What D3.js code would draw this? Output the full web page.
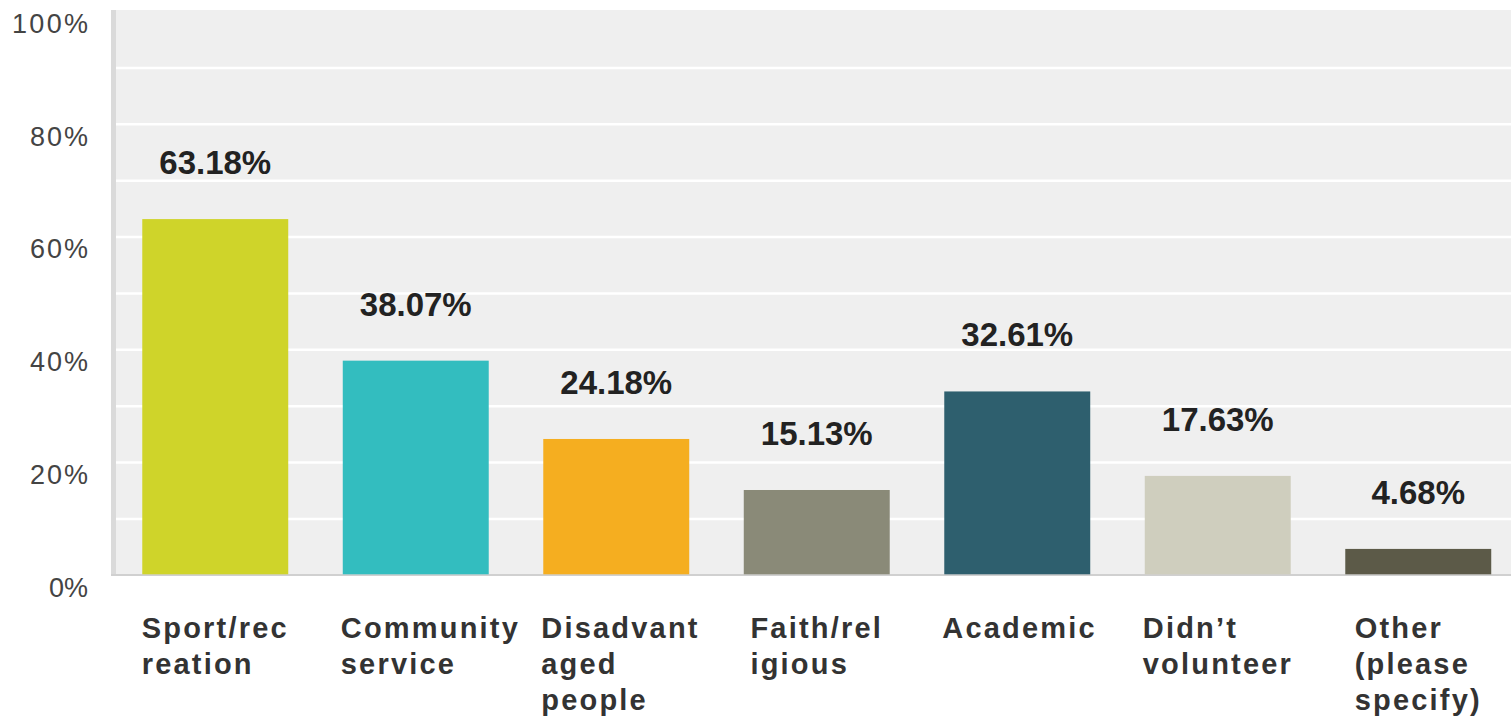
<!DOCTYPE html>
<html><head><meta charset="utf-8">
<script src="https://cdn.jsdelivr.net/npm/d3@7"></script>
<style>html,body{margin:0;padding:0;background:#fff;}svg{display:block;}</style>
</head><body>
<svg id="chart" width="1511" height="717"></svg>
<script>
const categories = ["Sport/recreation","Community service","Disadvantaged people","Faith/religious","Academic","Didn't volunteer","Other (please specify)"];
const labelLines = [["Sport/rec","reation"],["Community","service"],["Disadvant","aged","people"],["Faith/rel","igious"],["Academic"],["Didn\u2019t","volunteer"],["Other","(please","specify)"]];
const values = [63.18, 38.07, 24.18, 15.13, 32.61, 17.63, 4.68];
const colors = ["#cfd42a","#33bdbf","#f5ae20","#8a8a78","#2e5f6e","#cfcebe","#5c5a48"];
const yTicks = [0,20,40,60,80,100];
const gridTicks = [10,20,30,40,50,60,70,80,90];

const svg = d3.select("#chart");
const plotLeft = 116, plotRight = 1511, plotTop = 10, y0 = 575;
const x = d3.scaleBand().domain(categories).range([115, 1518.5]).paddingInner(0.272).paddingOuter(0.136);
const y = d3.scaleLinear().domain([0,100]).range([575.3, 11.5]);

svg.append("rect").attr("x", plotLeft).attr("y", plotTop).attr("width", plotRight-plotLeft).attr("height", y0-plotTop).attr("fill","#efefef");
svg.append("rect").attr("x", 111).attr("y", plotTop).attr("width", 5).attr("height", y0-plotTop+1).attr("fill","#dadada");

svg.append("g").selectAll("line").data(gridTicks).join("line")
  .attr("x1", plotLeft).attr("x2", plotRight)
  .attr("y1", d=>y(d)).attr("y2", d=>y(d))
  .attr("stroke","#ffffff").attr("stroke-width",2.5);

svg.append("line").attr("x1",111).attr("x2",plotRight).attr("y1",575).attr("y2",575).attr("stroke","#d0d0d0").attr("stroke-width",2);

svg.append("g").selectAll("text").data(yTicks).join("text")
  .attr("x", 88).attr("y", d=>y(d)+12).attr("dy","0.35em")
  .attr("text-anchor","end")
  .attr("font-family","Liberation Sans, Arial, sans-serif").attr("font-size",27)
  .attr("fill","#444")
  .attr("textLength", d=> String(d).length===3?76:(String(d).length===2?58:39))
  .text(d=>d+"%");

svg.append("g").selectAll("rect").data(values).join("rect")
  .attr("x",(d,i)=>x(categories[i])).attr("width",x.bandwidth())
  .attr("y",d=>y(d)).attr("height",d=>y(0)-y(d)-1)
  .attr("fill",(d,i)=>colors[i]);

svg.append("g").selectAll("text").data(values).join("text")
  .attr("x",(d,i)=>x(categories[i])+x.bandwidth()/2)
  .attr("y",d=>y(d)-45)
  .attr("text-anchor","middle")
  .attr("font-family","Liberation Sans, Arial, sans-serif").attr("font-weight","bold").attr("font-size",33)
  .attr("fill","#222")
  .text(d=>d.toFixed(2)+"%");

const lab = svg.append("g");
labelLines.forEach((lines,i)=>{
  const cx = x(categories[i]) + x.bandwidth()/2;
  const t = lab.append("text")
    .attr("font-family","Liberation Sans, Arial, sans-serif").attr("font-weight","bold").attr("font-size",29)
    .attr("letter-spacing","2.2px")
    .attr("fill","#333");
  lines.forEach((ln,j)=>{
    t.append("tspan").attr("y", 638 + j*36).text(ln);
  });
  let w = 0;
  t.selectAll("tspan").each(function(){ w = Math.max(w, this.getComputedTextLength()); });
  const left = cx - Math.min(w,150)/2;
  t.selectAll("tspan").attr("x", left);
});
</script>
</body></html>
